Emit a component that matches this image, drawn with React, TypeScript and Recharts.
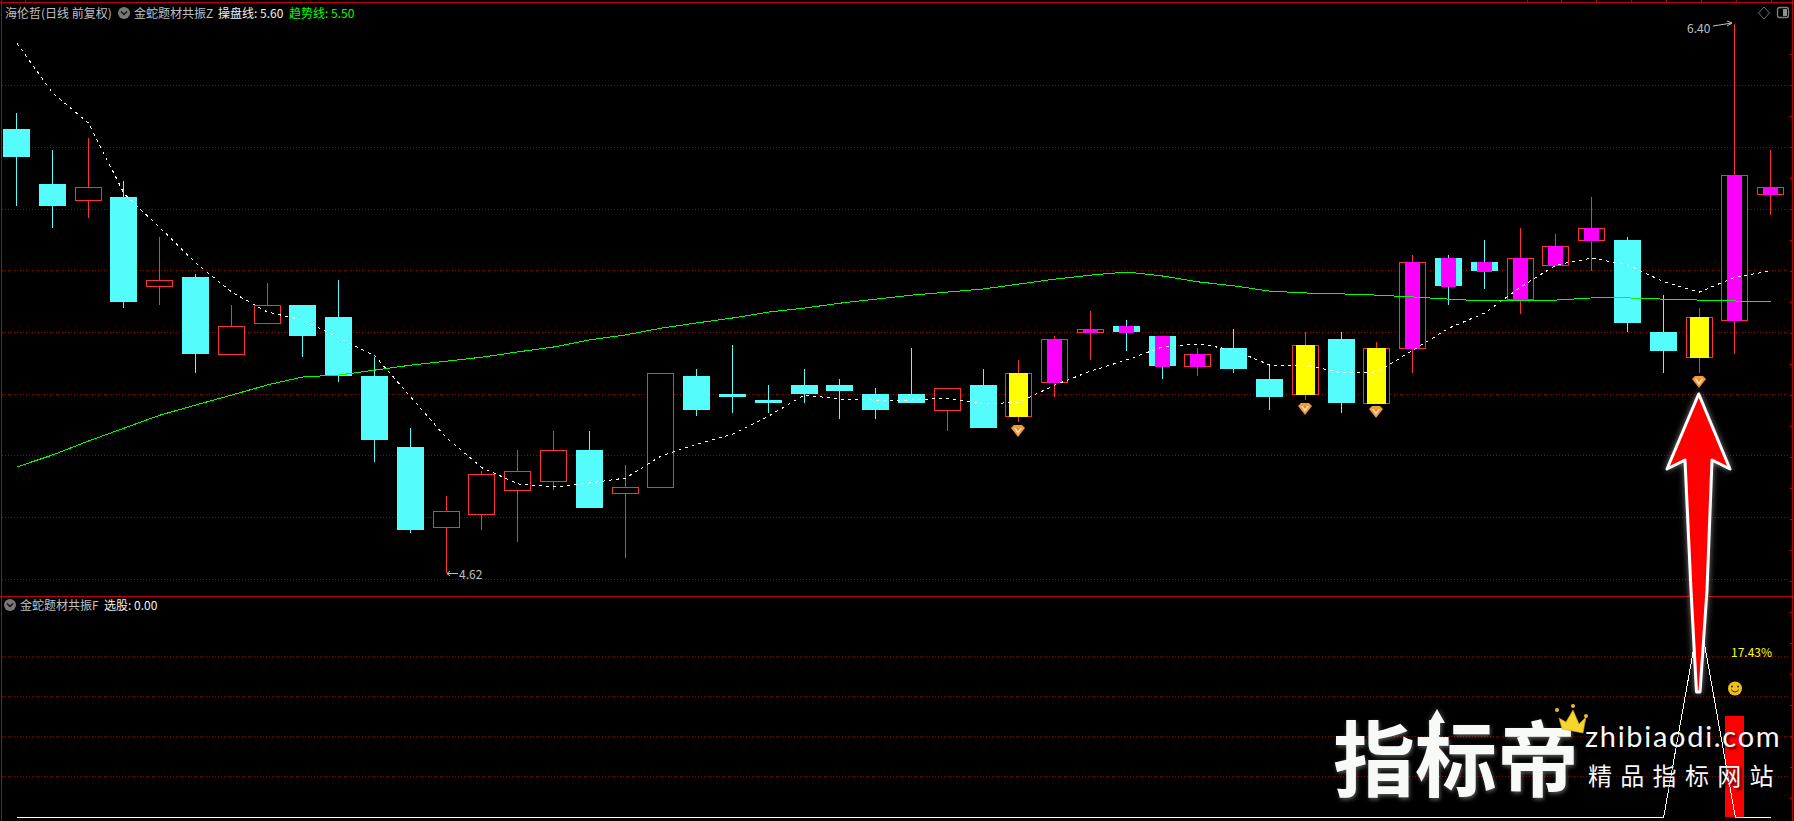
import React from 'react';
import { ComposedChart, Bar, Line, XAxis, YAxis, CartesianGrid } from 'recharts';

const opens = [6.06,5.88,5.83,5.84,5.55,5.58,5.33,5.43,5.49,5.45,5.26,5.03,4.77,4.81,4.89,4.92,5.02,4.88,4.90,5.26,5.20,5.18,5.23,5.23,5.20,5.20,5.15,5.23,5.13,5.24,5.40,5.42,5.39,5.29,5.35,5.25,5.20,5.38,5.17,5.35,5.64,5.63,5.51,5.62,5.70,5.70,5.40,5.32,5.44,5.85];
const closes = [5.97,5.81,5.87,5.50,5.57,5.33,5.42,5.49,5.39,5.26,5.05,4.76,4.82,4.94,4.95,5.02,4.83,4.90,5.27,5.15,5.19,5.17,5.20,5.21,5.15,5.17,5.22,5.09,5.27,5.38,5.41,5.40,5.29,5.33,5.28,5.19,5.36,5.17,5.35,5.63,5.55,5.60,5.64,5.68,5.74,5.43,5.34,5.45,5.91,5.87];
const highs = [6.11,5.99,6.03,5.89,5.71,5.59,5.49,5.56,5.49,5.57,5.32,5.09,4.87,4.95,5.02,5.08,5.08,4.97,5.27,5.28,5.36,5.23,5.28,5.25,5.22,5.35,5.22,5.28,5.31,5.39,5.47,5.44,5.39,5.35,5.41,5.29,5.40,5.40,5.37,5.65,5.65,5.70,5.74,5.72,5.84,5.71,5.52,5.48,6.40,5.99];
const lows = [5.81,5.74,5.77,5.48,5.49,5.27,5.33,5.43,5.32,5.24,4.98,4.75,4.62,4.76,4.72,4.89,4.83,4.67,4.90,5.13,5.14,5.14,5.17,5.12,5.12,5.17,5.08,5.09,5.11,5.19,5.31,5.34,5.25,5.26,5.27,5.15,5.18,5.14,5.17,5.27,5.49,5.54,5.46,5.62,5.60,5.40,5.27,5.27,5.33,5.78];
const operateLine = [6.338,6.176,6.079,5.849,5.739,5.625,5.531,5.466,5.440,5.382,5.324,5.191,5.058,4.961,4.909,4.899,4.912,4.928,5.000,5.038,5.071,5.129,5.197,5.184,5.181,5.181,5.187,5.168,5.174,5.230,5.275,5.311,5.353,5.363,5.343,5.294,5.294,5.269,5.272,5.343,5.414,5.463,5.547,5.619,5.641,5.619,5.564,5.531,5.580,5.599];
const trendLine = [4.964,5.003,5.048,5.090,5.132,5.165,5.197,5.230,5.256,5.262,5.278,5.294,5.307,5.320,5.337,5.353,5.376,5.392,5.414,5.431,5.447,5.466,5.479,5.495,5.508,5.521,5.531,5.541,5.557,5.573,5.586,5.596,5.583,5.564,5.551,5.534,5.528,5.525,5.521,5.515,5.508,5.502,5.505,5.505,5.512,5.512,5.508,5.505,5.502,5.499];
const yellowDays = [28,36,38,47];
const magentaDays = [29,30,31,32,33,39,40,41,42,43,44,48,49];
const selectSignal = [0,0,0,0,0,0,0,0,0,0,0,0,0,0,0,0,0,0,0,0,0,0,0,0,0,0,0,0,0,0,0,0,0,0,0,0,0,0,0,0,0,0,0,0,0,0,0,1,0,0];
const selectBarValues: [number, number, string][] = [[48,0.5,'17.43%']];
const priceGrid = [6.2,6.0,5.8,5.6,5.4,5.2,5.0,4.8,4.6];
const lowerGrid = [0.2,0.4,0.6,0.8];
const PRICE_DOMAIN = [4.5456,6.4778];
const LOWER_DOMAIN = [-0.0199,1.0995];
const maxPrice = Math.max(...highs);
const minPrice = Math.min(...lows);

const RED = '#ff3232', CYAN = '#54fcfc', GRID = '#a00000', GRID_LOW = '#8c0000', FRAME = '#c00000';
const FONT = '"Noto Sans CJK SC", "Liberation Sans", sans-serif';
const CHART_W = 1790;

const priceRows = opens.map((o, i) => ({
  i, open: o, close: closes[i], high: highs[i], low: lows[i],
  range: [lows[i], highs[i]], ma: operateLine[i], trend: trendLine[i],
  tone: yellowDays.includes(i) ? 'y' : magentaDays.includes(i) ? 'm' : '',
}));
const lowerRows = selectSignal.map((v, i) => {
  const hit = selectBarValues.find(b => b[0] === i);
  return { i, signal: v, bar: hit ? hit[1] : null, label: hit ? hit[2] : '' };
});

const yOf = (p: any, price: number) =>
  Math.round(p.y + ((p.payload.high - price) / (p.payload.high - p.payload.low)) * p.height);
const centre = (p: any) => Math.round(p.x + p.width / 2 - 0.5);

const Candle = (p: any) => {
  const d = p.payload;
  const cx = centre(p);
  const up = d.close >= d.open;
  const colour = up ? RED : CYAN;
  const top = yOf(p, Math.max(d.open, d.close));
  const bot = yOf(p, Math.min(d.open, d.close));
  const yH = yOf(p, d.high), yL = yOf(p, d.low);
  return (
    <g>
      <g shapeRendering="crispEdges">
        <rect x={cx} y={yH} width={1} height={yL - yH} fill={colour} />
        {up ? (
          <rect x={cx - 12.5} y={top + 0.5} width={26} height={Math.max(bot - top, 1)} fill="#000" stroke={RED} />
        ) : (
          <rect x={cx - 13} y={top} width={27} height={Math.max(bot - top, 1)} fill={CYAN} />
        )}
      </g>
      {d.high === maxPrice && (
        <g>
          <text x={cx - 47} y={yH + 9} fill="#c0c0c0" fontSize={12} fontFamily={FONT}>{d.high.toFixed(2)}</text>
          <path d={`M${cx - 21} ${yH + 2}L${cx - 2} ${yH - 1}M${cx - 7} ${yH - 3}L${cx - 2} ${yH - 1}L${cx - 7} ${yH + 2}`} stroke="#c0c0c0" fill="none" />
        </g>
      )}
      {d.low === minPrice && (
        <g>
          <path d={`M${cx + 12} ${yL + 0.5}H${cx + 1}M${cx + 4} ${yL - 2}L${cx + 1} ${yL + 0.5}L${cx + 4} ${yL + 3}`} stroke="#c0c0c0" fill="none" />
          <text x={cx + 13} y={yL + 6} fill="#c0c0c0" fontSize={12} fontFamily={FONT}>{d.low.toFixed(2)}</text>
        </g>
      )}
    </g>
  );
};

const Gem = ({ cx, cy }: { cx: number; cy: number }) => (
  <g>
    <path d={`M${cx - 7} ${cy - 3}L${cx - 4} ${cy - 6}H${cx + 4}L${cx + 7} ${cy - 3}L${cx} ${cy + 6}Z`} fill="#f09a3c" />
    <path d={`M${cx - 4} ${cy - 3}H${cx + 4}L${cx} ${cy + 3}Z`} fill="#ffe0b0" />
    <path d={`M${cx - 2} ${cy - 3}H${cx + 2}L${cx} ${cy}Z`} fill="#e8801e" />
  </g>
);

const Overlay = (p: any) => {
  const d = p.payload;
  if (!d.tone) return <g />;
  const cx = centre(p);
  const top = yOf(p, Math.max(d.open, d.close));
  const bot = yOf(p, Math.min(d.open, d.close));
  const yL = yOf(p, d.low);
  const w = d.tone === 'y' ? 19 : 15;
  return (
    <g>
      <rect x={cx - Math.floor(w / 2)} y={top} width={w} height={bot - top + 1} fill={d.tone === 'y' ? '#ffff00' : '#ff00ff'} shapeRendering="crispEdges" />
      {d.tone === 'y' && <Gem cx={cx} cy={yL + 9} />}
    </g>
  );
};

const LowerBar = (p: any) => {
  const d = p.payload;
  if (d.bar == null) return <g />;
  const cx = centre(p);
  return (
    <g>
      <rect x={cx - 9} y={p.y} width={19} height={p.height} fill="#ff0000" shapeRendering="crispEdges" />
      <text x={cx - 3} y={p.y - 59} fill="#ffff00" fontSize={12} fontFamily={FONT}>{d.label}</text>
      <circle cx={cx + 1} cy={p.y - 28} r={7} fill="#eec01c" />
      <circle cx={cx - 2} cy={p.y - 30} r={1} fill="#402800" />
      <circle cx={cx + 4} cy={p.y - 30} r={1} fill="#402800" />
      <path d={`M${cx - 3} ${p.y - 27}Q${cx + 1} ${p.y - 22} ${cx + 5} ${p.y - 27}`} stroke="#402800" fill="none" />
    </g>
  );
};

const Label = ({ x, y, color, size = 12, children }: any) => (
  <span style={{ position: 'absolute', left: x, top: y, color, fontSize: size, lineHeight: '16px', fontFamily: FONT, whiteSpace: 'nowrap' }}>{children}</span>
);

const Chevron = ({ cx, cy }: { cx: number; cy: number }) => (
  <g>
    <circle cx={cx} cy={cy} r={6} fill="#787878" />
    <path d={`M${cx - 3} ${cy - 1.5}L${cx} ${cy + 1.5}L${cx + 3} ${cy - 1.5}`} stroke="#111" strokeWidth={1.4} fill="none" />
  </g>
);

const topTicks = [25,1527,1561,1596,1631,1666,1701,1736,1771];
const rightTicks = Array.from({ length: 25 }, (_, k) => 54 + k * 31);
const F = { position: 'absolute' as const, left: 0, top: 0, pointerEvents: 'none' as const };

export default function App() {
  return (
    <div style={{ position: 'absolute', left: 0, top: 0, width: 1794, height: 821, background: '#000', overflow: 'hidden' }}>
      <div style={{ position: 'absolute', left: -1, top: 0 }}>
        <ComposedChart width={CHART_W} height={596} data={priceRows} margin={{ top: 0, right: 0, bottom: 0, left: 0 }} barGap={0}>
          <CartesianGrid horizontal vertical={false} horizontalValues={priceGrid} stroke={GRID} strokeDasharray="1 2" shapeRendering="crispEdges" />
          <XAxis dataKey="i" xAxisId="a" hide />
          <XAxis dataKey="i" xAxisId="b" hide />
          <YAxis domain={PRICE_DOMAIN} allowDataOverflow hide ticks={priceGrid} />
          <Bar xAxisId="a" dataKey="range" barSize={27} shape={Candle} isAnimationActive={false} />
          <Line xAxisId="a" dataKey="trend" stroke="#00ff00" strokeWidth={1} dot={false} activeDot={false} type="linear" isAnimationActive={false} shapeRendering="crispEdges" />
          <Line xAxisId="a" dataKey="ma" stroke="#ffffff" strokeWidth={1} strokeDasharray="3 4" dot={false} activeDot={false} type="linear" isAnimationActive={false} shapeRendering="crispEdges" />
          <Bar xAxisId="b" dataKey="range" barSize={27} shape={Overlay} isAnimationActive={false} />
        </ComposedChart>
      </div>
      <div style={{ position: 'absolute', left: -1, top: 596 }}>
        <ComposedChart width={CHART_W} height={225} data={lowerRows} margin={{ top: 0, right: 0, bottom: 0, left: 0 }}>
          <CartesianGrid horizontal vertical={false} horizontalValues={lowerGrid} stroke={GRID_LOW} strokeDasharray="1 2" shapeRendering="crispEdges" />
          <XAxis dataKey="i" hide />
          <YAxis domain={LOWER_DOMAIN} allowDataOverflow hide ticks={lowerGrid} />
          <Bar dataKey="bar" barSize={19} shape={LowerBar} isAnimationActive={false} />
          <Line dataKey="signal" stroke="#ffffff" strokeWidth={1} dot={false} activeDot={false} type="linear" isAnimationActive={false} shapeRendering="crispEdges" />
        </ComposedChart>
      </div>

      <svg width={1794} height={821} style={F}>
        <g shapeRendering="crispEdges" fill={FRAME}>
          <rect x={0} y={2} width={1794} height={1} />
          <rect x={1} y={0} width={1} height={821} />
          <rect x={0} y={596} width={1794} height={1} />
          <rect x={1792} y={0} width={1} height={821} />
          {topTicks.map(x => <rect key={x} x={x} y={0} width={1} height={2} />)}
          {rightTicks.map(y => <rect key={y} x={1790} y={y} width={2} height={1} />)}
        </g>
        <Chevron cx={124} cy={13} />
        <Chevron cx={10} cy={605} />
        <path d="M1764 7L1769.5 13L1764 19L1758.5 13Z" stroke="#707070" fill="none" />
        <rect x={1777.5} y={7.5} width={11} height={10} rx={2} stroke="#808080" fill="none" strokeWidth={1.3} />
        <rect x={1783} y={9} width={4} height={7} fill="#909090" />
      </svg>

      <Label x={5} y={5} color="#c0c0c0">海伦哲(日线 前复权)</Label>
      <Label x={134} y={5} color="#c0c0c0">金蛇题材共振Z</Label>
      <Label x={218} y={5} color="#f0f0f0">操盘线: 5.60</Label>
      <Label x={289} y={5} color="#00ff00">趋势线: 5.50</Label>
      <Label x={20} y={597} color="#c0c0c0">金蛇题材共振F</Label>
      <Label x={104} y={597} color="#f0f0f0">选股: 0.00</Label>

      <svg width={1794} height={821} style={F}>
        <path d="M1698.7 394L1730 469L1712 460L1707 590L1700 692H1696.5L1691 590L1685 460L1667 469Z" fill="#ff0000" stroke="#ffffff" strokeWidth={3} strokeLinejoin="round" style={{ filter: 'drop-shadow(0 0 3px rgba(255,255,255,0.5))' }} />
        <g style={{ filter: 'drop-shadow(0 0 3px rgba(255,255,255,0.35))' }}>
          <path d="M1437 709L1445 723H1440V735H1434V723H1429Z" fill="#f8faf8" />
        </g>
      </svg>
      <span style={{ position: 'absolute', left: 1333, top: 700, fontFamily: FONT, fontSize: 82, fontWeight: 700, lineHeight: '110px', color: '#f8faf8', whiteSpace: 'nowrap', textShadow: '1px 2px 4px rgba(255,255,255,0.35)' }}>指标帝</span>
      <span style={{ position: 'absolute', left: 1585, top: 718, fontFamily: 'Lato, sans-serif', fontSize: 29, lineHeight: '36px', letterSpacing: 1.7, color: '#f8f8f8', whiteSpace: 'nowrap', textShadow: '2px 2px 3px rgba(0,0,0,0.8)' }}>zhibiaodi.com</span>
      <span style={{ position: 'absolute', left: 1588, top: 758, fontFamily: FONT, fontSize: 24, lineHeight: '34px', letterSpacing: 8.3, color: '#f8f8f8', whiteSpace: 'nowrap', textShadow: '2px 2px 3px rgba(0,0,0,0.8)' }}>精品指标网站</span>
      <svg width={1794} height={821} style={F}>
        <path d="M1559 718L1566 722L1573 710L1579 724L1586 717L1583 733L1562 729Z" fill="#f6d62c" stroke="#c8a020" strokeWidth={0.6} />
        <circle cx={1557} cy={710} r={2} fill="#eebb22" />
        <circle cx={1573} cy={706} r={2} fill="#eebb22" />
        <circle cx={1586} cy={716} r={2} fill="#eebb22" />
      </svg>
    </div>
  );
}
